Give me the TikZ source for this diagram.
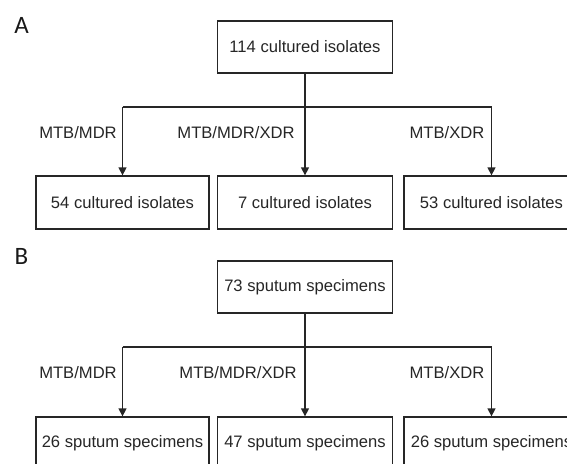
\documentclass[tikz,border=0pt]{standalone}
\usepackage{fontspec}
\setmainfont{Liberation Sans}
\newfontfamily\panelfont{Carlito}
\usetikzlibrary{arrows.meta}
\begin{document}
\begin{tikzpicture}[x=1pt,y=-1pt,
  box/.style={draw=black!85, line width=1.3pt, minimum width=175pt, minimum height=52pt, inner sep=0pt, font=\fontsize{16.6}{20}\selectfont, text=black!85},
  lbl/.style={font=\fontsize{16.6}{20}\selectfont, text=black!85, inner sep=0pt},
  conn/.style={draw=black!85, line width=1.3pt},
  arr/.style={conn, -{Triangle[width=8pt,length=8pt]}},
  panel/.style={font=\panelfont\fontsize{25}{30}\selectfont, inner sep=0pt, text=black!90}]
\useasboundingbox (0,0) rectangle (567,463);
\clip (0,0) rectangle (567,463);
% Panel A
\node[panel] (pA) at (21.5,25) {A};
\node[box] (topA) at (305,47) {114 cultured isolates};
\node[box, minimum width=173pt, minimum height=53pt] (b1A) at (122.5,202.5) {54 cultured isolates};
\node[box, minimum height=53pt] (b2A) at (305,202.5) {7 cultured isolates};
\node[box, minimum height=53pt] (b3A) at (491.5,202.5) {53 cultured isolates};
\coordinate (lA) at (122.5,107);
\coordinate (rA) at (491.5,107);
\draw[conn] (lA) -- (rA);
\draw[arr] (topA.south) -- (b2A.north);
\draw[arr] (lA) -- (b1A.north);
\draw[arr] (rA) -- (b3A.north);
\node[lbl] (m1A) at (78,133) {MTB/MDR};
\node[lbl] (m2A) at (236,133) {MTB/MDR/XDR};
\node[lbl] (m3A) at (447,133) {MTB/XDR};
% Panel B
\node[panel] (pB) at (21.5,256) {B};
\node[box] (topB) at (305,287) {73 sputum specimens};
\node[box, minimum width=173pt, minimum height=53pt] (b1B) at (122.5,443.5) {26 sputum specimens};
\node[box, minimum height=53pt] (b2B) at (305,443.5) {47 sputum specimens};
\node[box, minimum height=53pt] (b3B) at (491.5,443.5) {26 sputum specimens};
\coordinate (lB) at (122.5,347);
\coordinate (rB) at (491.5,347);
\draw[conn] (lB) -- (rB);
\draw[arr] (topB.south) -- (b2B.north);
\draw[arr] (lB) -- (b1B.north);
\draw[arr] (rB) -- (b3B.north);
\node[lbl] (m1B) at (78,373) {MTB/MDR};
\node[lbl] (m2B) at (238,373) {MTB/MDR/XDR};
\node[lbl] (m3B) at (447,373) {MTB/XDR};
\end{tikzpicture}
\end{document}
